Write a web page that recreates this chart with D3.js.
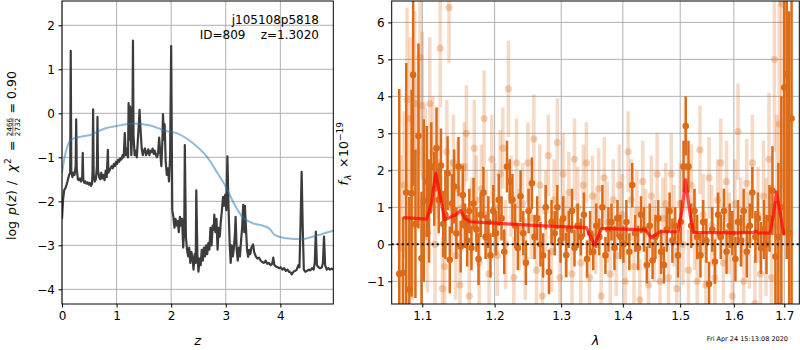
<!DOCTYPE html>
<html><head><meta charset="utf-8">
<script src="https://cdn.jsdelivr.net/npm/d3@7"></script>
<style>
body{margin:0;background:#fff;}
text{font-family:"DejaVu Sans",sans-serif;fill:#000;white-space:pre;}
</style></head>
<body><svg id="c" width="800" height="350"></svg>
<script>
// ---------- DATA ----------
const zTicks = [0,1,2,3,4];
const pzTicks = [-4,-3,-2,-1,0,1,2];
const lamTicks = [1.1,1.2,1.3,1.4,1.5,1.6,1.7];
const fluxTicks = [-1,0,1,2,3,4,5,6];

const zGrid = [0.00,0.02,0.04,0.07,0.10,0.13,0.15,0.16,0.17,0.19,0.21,0.23,0.25,0.26,0.27,0.29,0.31,0.33,0.35,0.37,0.38,0.39,0.41,0.43,0.45,0.47,0.49,0.51,0.53,0.55,0.56,0.57,0.58,0.60,0.62,0.64,0.65,0.66,0.68,0.70,0.72,0.74,0.76,0.78,0.80,0.82,0.84,0.85,0.87,0.89,0.91,0.93,0.95,0.97,0.99,1.01,1.03,1.05,1.07,1.09,1.11,1.13,1.15,1.17,1.19,1.21,1.22,1.23,1.25,1.27,1.29,1.30,1.31,1.33,1.35,1.37,1.39,1.41,1.42,1.44,1.46,1.48,1.50,1.52,1.54,1.56,1.58,1.60,1.62,1.64,1.66,1.68,1.70,1.72,1.74,1.76,1.78,1.80,1.82,1.84,1.85,1.87,1.88,1.90,1.92,1.94,1.96,1.98,2.00,2.02,2.04,2.06,2.08,2.10,2.12,2.14,2.16,2.18,2.20,2.22,2.24,2.25,2.27,2.29,2.31,2.33,2.35,2.37,2.39,2.41,2.43,2.45,2.46,2.48,2.50,2.52,2.54,2.56,2.58,2.60,2.62,2.64,2.66,2.68,2.70,2.72,2.74,2.76,2.78,2.79,2.81,2.83,2.85,2.87,2.89,2.91,2.93,2.95,2.97,2.99,3.01,3.03,3.05,3.07,3.09,3.11,3.13,3.15,3.17,3.18,3.20,3.22,3.24,3.26,3.28,3.30,3.32,3.34,3.35,3.37,3.39,3.41,3.43,3.45,3.47,3.50,3.52,3.55,3.58,3.61,3.64,3.67,3.70,3.73,3.76,3.79,3.82,3.85,3.87,3.89,3.92,3.95,3.98,4.01,4.04,4.07,4.10,4.13,4.16,4.19,4.21,4.24,4.27,4.30,4.33,4.35,4.37,4.39,4.41,4.43,4.46,4.49,4.52,4.55,4.58,4.61,4.63,4.65,4.67,4.70,4.73,4.76,4.78,4.80,4.82,4.85,4.88,4.91,4.94,4.97];
const logPz = [-2.40,-1.95,-1.75,-1.68,-1.55,-1.40,-1.35,1.42,-1.30,-1.45,-1.35,-1.40,-1.20,-0.14,-1.25,-1.50,-1.52,-1.48,-1.55,-1.45,-0.90,-1.50,-1.58,-1.55,-1.60,-1.57,-1.62,-1.58,-1.65,-1.60,-1.30,0.09,-1.40,-1.55,-1.50,-1.20,-0.08,-1.30,-1.45,-1.50,-1.35,-1.48,-1.40,-1.52,-1.30,-1.45,-0.83,-1.35,-1.30,-1.25,-1.20,-1.25,-1.15,-1.20,-1.10,-1.15,-1.05,-1.10,-1.02,-1.05,-0.95,-1.00,-0.45,-0.95,-0.80,-1.00,0.23,-0.60,0.15,-0.95,-0.30,1.65,-0.50,-0.95,-0.85,-1.00,-0.60,-0.20,0.08,-0.40,-0.80,-0.95,-0.85,-0.80,-0.95,-0.90,-0.82,-0.95,-0.85,-0.88,-0.80,-0.92,-0.85,-0.95,-1.00,-0.90,-0.55,-0.90,-1.20,-0.60,-0.02,-0.60,-0.25,-1.10,-1.40,-1.25,-1.55,-1.00,1.53,-2.20,-2.35,-2.60,-2.40,-2.55,-2.45,-2.70,-2.35,-2.55,-2.40,-3.05,-2.60,-0.72,-2.80,-3.10,-3.25,-3.05,-3.40,-3.15,-3.30,-3.55,-3.20,-3.40,-1.75,-3.20,-3.60,-3.30,-3.45,-3.10,-3.35,-3.05,-3.25,-3.00,-3.20,-2.95,-3.10,-2.60,-3.00,-2.55,-2.65,-2.30,-2.70,-2.40,-3.10,-2.60,-2.80,-2.45,-2.20,-1.90,-2.10,-1.85,-2.20,-0.98,-2.10,-2.90,-3.40,-3.00,-3.25,-3.05,-2.70,-2.35,-3.10,-3.35,-3.05,-3.25,-2.90,-2.60,-2.08,-2.70,-2.10,-2.60,-3.10,-3.26,-3.10,-3.20,-3.05,-2.98,-3.15,-3.25,-3.30,-3.28,-3.35,-3.38,-3.40,-3.35,-3.42,-3.40,-3.45,-3.42,-3.28,-3.45,-3.48,-3.50,-3.52,-3.50,-3.55,-3.52,-3.58,-3.55,-3.60,-3.62,-3.66,-3.60,-3.58,-3.55,-3.45,-3.50,-2.50,-1.33,-2.60,-3.55,-3.60,-3.58,-3.55,-3.57,-3.52,-3.55,-3.40,-2.69,-3.45,-3.50,-3.52,-3.50,-3.40,-2.80,-3.45,-3.55,-3.52,-3.55,-3.53,-3.55];

const zPrior = [0.00,0.04,0.08,0.17,0.35,0.50,0.80,1.00,1.30,1.60,1.90,2.10,2.40,2.65,2.85,3.00,3.15,3.30,3.50,3.70,3.80,3.90,4.10,4.40,4.60,4.97];
const logPrior = [-1.36,-1.05,-0.83,-0.60,-0.53,-0.50,-0.34,-0.29,-0.23,-0.27,-0.40,-0.45,-0.68,-0.98,-1.36,-1.67,-2.05,-2.35,-2.50,-2.56,-2.62,-2.77,-2.84,-2.86,-2.80,-2.67];

const darkWave = [1.070,1.075,1.079,1.083,1.086,1.088,1.091,1.095,1.099,1.102,1.106,1.109,1.112,1.116,1.119,1.122,1.125,1.128,1.131,1.134,1.137,1.140,1.143,1.146,1.149,1.152,1.155,1.158,1.161,1.164,1.167,1.170,1.174,1.177,1.180,1.184,1.187,1.191,1.194,1.198,1.202,1.206,1.210,1.214,1.218,1.222,1.226,1.230,1.234,1.238,1.242,1.246,1.250,1.255,1.259,1.263,1.268,1.272,1.276,1.281,1.285,1.290,1.294,1.299,1.303,1.308,1.312,1.317,1.321,1.326,1.331,1.336,1.341,1.346,1.351,1.356,1.361,1.366,1.371,1.376,1.381,1.386,1.391,1.396,1.401,1.406,1.411,1.416,1.421,1.426,1.431,1.436,1.441,1.446,1.451,1.456,1.461,1.466,1.471,1.476,1.481,1.486,1.491,1.496,1.501,1.506,1.510,1.515,1.520,1.526,1.531,1.537,1.542,1.548,1.553,1.559,1.564,1.570,1.575,1.581,1.586,1.592,1.597,1.603,1.608,1.614,1.619,1.625,1.631,1.636,1.642,1.647,1.653,1.659,1.664,1.670,1.676,1.682,1.688,1.694,1.700,1.705,1.710,1.715];
const darkFlux = [-0.8,-0.77,1.4,-1.22,1.38,4.58,0.55,2.93,-0.38,1.18,1.7,0.9,2.1,1.5,2.6,1.2,2.13,0.55,0.8,1.92,-0.42,1.1,1.56,0.3,2.1,-0.06,1.33,0.5,0.1,0.9,-0.1,1.1,0.4,-0.4,0.8,1.4,0.2,0.6,-0.3,0.9,0.3,1.2,0.7,-0.2,2.1,1.7,1.2,0.5,-0.1,1.3,0.3,-0.5,0.9,1.65,0.2,0.7,0.0,-0.3,1.0,-0.75,0.6,0.3,1.0,0.1,0.7,-0.29,0.4,0.9,-0.1,0.5,0.2,0.8,-0.4,0.3,-0.2,0.5,0.2,1.0,-0.3,0.4,0.6,-0.1,0.7,0.2,0.0,0.6,-0.2,1.6,0.3,-0.1,0.8,0.4,-0.56,0.5,-0.44,0.2,0.7,-0.2,-0.56,0.4,0.9,0.1,0.5,-0.3,0.6,2.1,3.2,2.1,0.5,0.9,0.2,-0.3,0.6,0.1,-1.07,0.4,-0.47,0.8,0.2,0.9,-0.2,0.5,0.3,-0.4,0.6,0.1,0.9,-0.2,0.5,1.4,0.2,0.7,-0.1,0.4,0.0,0.7,1.45,-0.33,0.2,1.0,4.24,4.6,0.3,3.4];
const darkErr = [5.0,1.5,3.5,2.5,2.8,3.0,2.0,2.5,1.8,2.2,1.5,1.4,1.2,1.0,1.1,0.9,1.0,0.9,1.2,1.0,0.9,0.8,1.0,0.7,0.8,0.7,0.8,0.6,0.7,0.6,0.6,0.7,0.6,0.7,0.6,0.7,0.6,0.7,0.6,0.7,0.6,0.7,0.6,0.6,0.7,0.6,0.7,0.6,0.6,0.7,0.6,0.6,0.6,0.7,0.6,0.6,0.6,0.6,0.6,0.6,0.6,0.6,0.6,0.6,0.6,0.6,0.5,0.6,0.5,0.6,0.5,0.6,0.5,0.6,0.5,0.6,0.5,0.6,0.5,0.6,0.5,0.6,0.5,0.6,0.5,0.6,0.5,0.6,0.5,0.6,0.5,0.6,0.5,0.6,0.5,0.6,0.5,0.6,0.5,0.6,0.5,0.6,0.5,0.6,0.6,0.7,0.8,0.7,0.6,0.6,0.6,0.6,0.6,0.6,0.6,0.6,0.6,0.6,0.6,0.6,0.6,0.6,0.6,0.6,0.6,0.7,0.6,0.7,0.6,0.7,0.7,0.7,0.7,0.8,0.8,0.9,1.2,1.5,2.0,3.0,4.0,5.0,6.0,7.0];

const lightWave = [1.072,1.076,1.080,1.084,1.087,1.090,1.093,1.097,1.100,1.104,1.107,1.110,1.114,1.117,1.121,1.124,1.127,1.130,1.133,1.136,1.139,1.142,1.145,1.148,1.151,1.154,1.157,1.160,1.164,1.167,1.171,1.174,1.178,1.181,1.185,1.188,1.192,1.196,1.200,1.204,1.208,1.212,1.216,1.220,1.224,1.228,1.232,1.236,1.241,1.245,1.249,1.254,1.258,1.262,1.267,1.271,1.276,1.280,1.285,1.289,1.294,1.298,1.303,1.307,1.312,1.317,1.321,1.326,1.331,1.335,1.340,1.345,1.350,1.355,1.360,1.364,1.369,1.374,1.379,1.384,1.389,1.394,1.399,1.404,1.409,1.414,1.419,1.424,1.429,1.434,1.439,1.444,1.449,1.454,1.459,1.464,1.469,1.474,1.479,1.484,1.489,1.494,1.500,1.505,1.510,1.515,1.520,1.526,1.531,1.536,1.542,1.547,1.553,1.558,1.564,1.569,1.575,1.580,1.586,1.591,1.597,1.602,1.608,1.613,1.619,1.625,1.630,1.636,1.641,1.647,1.652,1.658,1.663,1.669,1.674,1.680,1.685,1.690,1.695];
const lightFlux = [-0.1,1.6,3.9,3.4,0.5,3.8,2.5,5.05,3.75,1.9,0.3,3.8,2.5,0.0,2.2,5.3,-1.2,-0.6,2.5,6.4,1.0,2.2,-0.3,1.5,-1.1,1.0,2.1,3.0,-1.4,0.6,2.6,1.2,-0.5,1.5,3.4,0.8,-0.8,2.3,1.0,-0.3,1.9,2.6,0.0,4.2,1.3,-0.9,2.2,0.4,1.1,-0.4,2.2,0.7,2.85,-0.7,1.6,-1.4,0.9,2.4,-0.2,1.2,2.75,-0.9,1.9,0.2,1.4,-0.8,2.3,1.0,-0.5,1.6,2.2,-0.9,1.3,0.3,1.5,-1.4,1.8,0.6,-0.8,1.2,-0.3,1.6,0.8,-1.0,2.5,1.2,-0.6,0.9,-1.5,1.7,0.4,-1.1,1.3,0.1,1.9,-1.0,0.7,1.1,-0.9,1.9,0.5,-1.2,1.1,0.0,2.1,-0.7,1.6,0.4,-1.0,2.55,0.8,-1.1,1.8,0.5,-0.9,1.2,2.2,-0.5,1.7,0.3,-1.4,1.1,3.05,0.6,-1.0,1.65,0.1,2.2,-1.6,0.8,-0.8,1.3,0.2,2.3,-0.9,5.0,0.5,3.25,6.5];
const lightErr = [2.5,2.0,2.5,2.2,2.0,2.5,2.0,3.0,2.0,1.8,1.6,1.8,1.5,1.6,1.5,1.6,1.4,1.5,1.4,1.5,1.3,1.3,1.2,1.3,1.2,1.2,1.2,1.3,1.2,1.2,1.3,1.2,1.2,1.2,1.3,1.2,1.2,1.2,1.2,1.1,1.2,1.1,1.2,1.3,1.1,1.1,1.2,1.1,1.1,1.1,1.1,1.1,1.2,1.1,1.1,1.1,1.1,1.1,1.1,1.1,1.2,1.1,1.1,1.1,1.1,1.1,1.1,1.1,1.1,1.1,1.1,1.1,1.1,1.1,1.1,1.1,1.1,1.1,1.1,1.1,1.1,1.1,1.1,1.1,1.1,1.1,1.1,1.1,1.1,1.1,1.1,1.1,1.1,1.1,1.1,1.1,1.1,1.1,1.1,1.1,1.1,1.1,1.1,1.1,1.2,1.1,1.1,1.1,1.1,1.2,1.1,1.1,1.1,1.1,1.1,1.1,1.2,1.1,1.1,1.1,1.1,1.2,1.3,1.2,1.2,1.2,1.3,1.3,1.3,1.3,1.4,1.5,1.6,1.8,2.0,2.5,3.0,4.0,5.0];

const modelWave = [1.075,1.106,1.112,1.118,1.124,1.130,1.145,1.152,1.158,1.165,1.200,1.250,1.300,1.340,1.347,1.353,1.359,1.365,1.438,1.449,1.464,1.496,1.503,1.510,1.517,1.524,1.600,1.638,1.643,1.648,1.671,1.678,1.684,1.691,1.699];
const modelFlux = [0.72,0.68,1.10,1.92,1.30,0.66,0.80,0.91,0.70,0.61,0.57,0.52,0.48,0.45,0.20,-0.02,0.20,0.43,0.39,0.18,0.34,0.34,0.90,1.74,0.90,0.32,0.31,0.32,0.36,0.31,0.30,0.80,1.42,0.90,0.25];

const titleLines = ["j105108p5818", "ID=809    z=1.3020"];
const stamp = "Fri Apr 24 15:13:08 2020";

// ---------- DRAW ----------
const svg = d3.select("#c");
const FS = 12;
const gridCol = "#b0b0b0";
const orange = "#dc6a16";

function panel(id, x0, x1, y0, y1, xs, ys, xt, yt) {
  const g = svg.append("g");
  svg.append("clipPath").attr("id", id).append("rect")
    .attr("x", x0).attr("y", y0).attr("width", x1 - x0).attr("height", y1 - y0);
  g.selectAll(null).data(xt).join("line")
    .attr("x1", d => xs(d)).attr("x2", d => xs(d)).attr("y1", y0).attr("y2", y1)
    .attr("stroke", gridCol).attr("stroke-width", 1);
  g.selectAll(null).data(yt).join("line")
    .attr("y1", d => ys(d)).attr("y2", d => ys(d)).attr("x1", x0).attr("x2", x1)
    .attr("stroke", gridCol).attr("stroke-width", 1);
  const plot = svg.append("g").attr("clip-path", `url(#${id})`);
  return {g, plot};
}
function axesFrame(x0, x1, y0, y1, xs, ys, xt, yt, xfmt, yfmt) {
  const ax = svg.append("g").attr("transform", `translate(0,${y1})`)
    .call(d3.axisBottom(xs).tickValues(xt).tickFormat(xfmt).tickSize(3.5).tickPadding(3.5));
  const ay = svg.append("g").attr("transform", `translate(${x0},0)`)
    .call(d3.axisLeft(ys).tickValues(yt).tickFormat(yfmt).tickSize(3.5).tickPadding(3.5));
  [ax, ay].forEach(a => {
    a.select(".domain").remove();
    a.selectAll("text").attr("font-size", FS).attr("font-family", "DejaVu Sans").attr("fill", "#000");
    a.selectAll("line").attr("stroke", "#000");
  });
  svg.append("rect").attr("x", x0).attr("y", y0).attr("width", x1 - x0).attr("height", y1 - y0)
    .attr("fill", "none").attr("stroke", "#000").attr("stroke-width", 1);
}

// Left panel
const L = {x0: 62, x1: 333.3, y0: 1, y1: 304};
const xz = d3.scaleLinear().domain([0, 4.97]).range([L.x0, L.x1]);
const yp = d3.scaleLinear().domain([-4.333, 2.552]).range([L.y1, L.y0]);
const P1 = panel("clipL", L.x0, L.x1, L.y0, L.y1, xz, yp, zTicks, pzTicks);
const pzData = zGrid.map((z, i) => [z, logPz[i]]);
P1.plot.append("path").datum(pzData)
  .attr("d", d3.line().x(d => xz(d[0])).y(d => yp(d[1])))
  .attr("fill", "none").attr("stroke", "#3c3c3c").attr("stroke-width", 2.2).attr("stroke-linejoin", "round");
const prData = zPrior.map((z, i) => [z, logPrior[i]]);
P1.plot.append("path").datum(prData)
  .attr("d", d3.line().curve(d3.curveMonotoneX).x(d => xz(d[0])).y(d => yp(d[1])))
  .attr("fill", "none").attr("stroke", "#1f77b4").attr("stroke-opacity", 0.5).attr("stroke-width", 2);
axesFrame(L.x0, L.x1, L.y0, L.y1, xz, yp, zTicks, pzTicks, d3.format("d"), d3.format("d"));

// title text
svg.selectAll(null).data(titleLines).join("text")
  .attr("x", 319).attr("y", (d, i) => 24 + i * 14.5).attr("text-anchor", "end")
  .attr("xml:space", "preserve")
  .attr("font-size", 12).text(d => d);

// Right panel
const R = {x0: 391.7, x1: 799.3, y0: 1, y1: 304};
const xl = d3.scaleLog().domain([1.0603, 1.7310]).range([R.x0, R.x1]);
const yf = d3.scaleLinear().domain([-1.614, 6.578]).range([R.y1, R.y0]);
const P2 = panel("clipR", R.x0, R.x1, R.y0, R.y1, xl, yf, lamTicks, fluxTicks);
const light = lightWave.map((w, i) => ({w, f: lightFlux[i], e: lightErr[i]}));
const dark = darkWave.map((w, i) => ({w, f: darkFlux[i], e: darkErr[i]}));
P2.plot.selectAll(null).data(light).join("line")
  .attr("x1", d => xl(d.w)).attr("x2", d => xl(d.w))
  .attr("y1", d => yf(d.f - d.e)).attr("y2", d => yf(d.f + d.e))
  .attr("stroke", orange).attr("stroke-opacity", 0.25).attr("stroke-width", 3.5);
P2.plot.selectAll(null).data(light).join("circle")
  .attr("cx", d => xl(d.w)).attr("cy", d => yf(d.f)).attr("r", 3.6)
  .attr("fill", orange).attr("fill-opacity", 0.3);
P2.plot.selectAll(null).data(dark).join("line")
  .attr("x1", d => xl(d.w)).attr("x2", d => xl(d.w))
  .attr("y1", d => yf(d.f - d.e)).attr("y2", d => yf(d.f + d.e))
  .attr("stroke", orange).attr("stroke-width", 2.5);
P2.plot.selectAll(null).data(dark).join("circle")
  .attr("cx", d => xl(d.w)).attr("cy", d => yf(d.f)).attr("r", 3.3)
  .attr("fill", orange);
P2.plot.append("line").attr("x1", R.x0).attr("x2", R.x1).attr("y1", yf(0)).attr("y2", yf(0))
  .attr("stroke", "#000").attr("stroke-width", 2).attr("stroke-dasharray", "2,3");
const model = modelWave.map((w, i) => [w, modelFlux[i]]);
P2.plot.append("path").datum(model)
  .attr("d", d3.line().x(d => xl(d[0])).y(d => yf(d[1])))
  .attr("fill", "none").attr("stroke", "#ff0000").attr("stroke-opacity", 0.7)
  .attr("stroke-width", 3.2).attr("stroke-linejoin", "round");
axesFrame(R.x0, R.x1, R.y0, R.y1, xl, yf, lamTicks, fluxTicks, d3.format(".1f"), d3.format("d"));

// axis labels
svg.append("text").attr("x", (L.x0 + L.x1) / 2).attr("y", 345).attr("text-anchor", "middle")
  .attr("font-size", 13).attr("font-style", "italic").text("z");
svg.append("text").attr("x", (R.x0 + R.x1) / 2).attr("y", 345).attr("text-anchor", "middle")
  .attr("font-size", 13).attr("font-style", "italic").text("λ");

// rotated math labels: pieces placed along the label (offset from the label start)
function mathLabel(startY, baselineX, parts) {
  const g = svg.append("g").attr("transform", `translate(${baselineX},${startY}) rotate(-90)`);
  parts.forEach(p => {
    if (p.frac) {
      const fs = 7.2;
      g.append("text").attr("x", p.at).attr("y", -4.3).attr("font-size", fs).attr("text-anchor", "middle").text(p.frac[0]);
      g.append("text").attr("x", p.at).attr("y", 3.6).attr("font-size", fs).attr("text-anchor", "middle").text(p.frac[1]);
      g.append("line").attr("x1", p.at - 9).attr("x2", p.at + 9).attr("y1", -3.1).attr("y2", -3.1)
        .attr("stroke", "#000").attr("stroke-width", 0.6);
    } else {
      g.append("text").attr("x", p.at).attr("y", p.dy || 0).attr("font-size", p.size || 12.5)
        .attr("font-style", p.it ? "italic" : null).text(p.t);
    }
  });
}
mathLabel(240, 16, [
  {t: "log", at: 0}, {t: "p", it: true, at: 25}, {t: "(", at: 33}, {t: "z", it: true, at: 38}, {t: ")", at: 45},
  {t: "/", at: 55}, {t: "χ", it: true, at: 68}, {t: "2", size: 9, dy: -5.5, at: 76},
  {t: "=", at: 89}, {frac: ["2466", "2732"], at: 113}, {t: "=", at: 126.5}, {t: "0.90", at: 141}
]);
mathLabel(185.5, 348, [
  {t: "f", it: true, at: 0}, {t: "λ", it: true, size: 9, dy: 3, at: 5.5}, {t: "×", at: 17.5}, {t: "10", at: 28.5},
  {t: "−19", size: 9, dy: -5.5, at: 44.5}
]);

svg.append("text").attr("x", 788).attr("y", 341).attr("text-anchor", "end")
  .attr("font-size", 6.5).text(stamp);
</script></body></html>
